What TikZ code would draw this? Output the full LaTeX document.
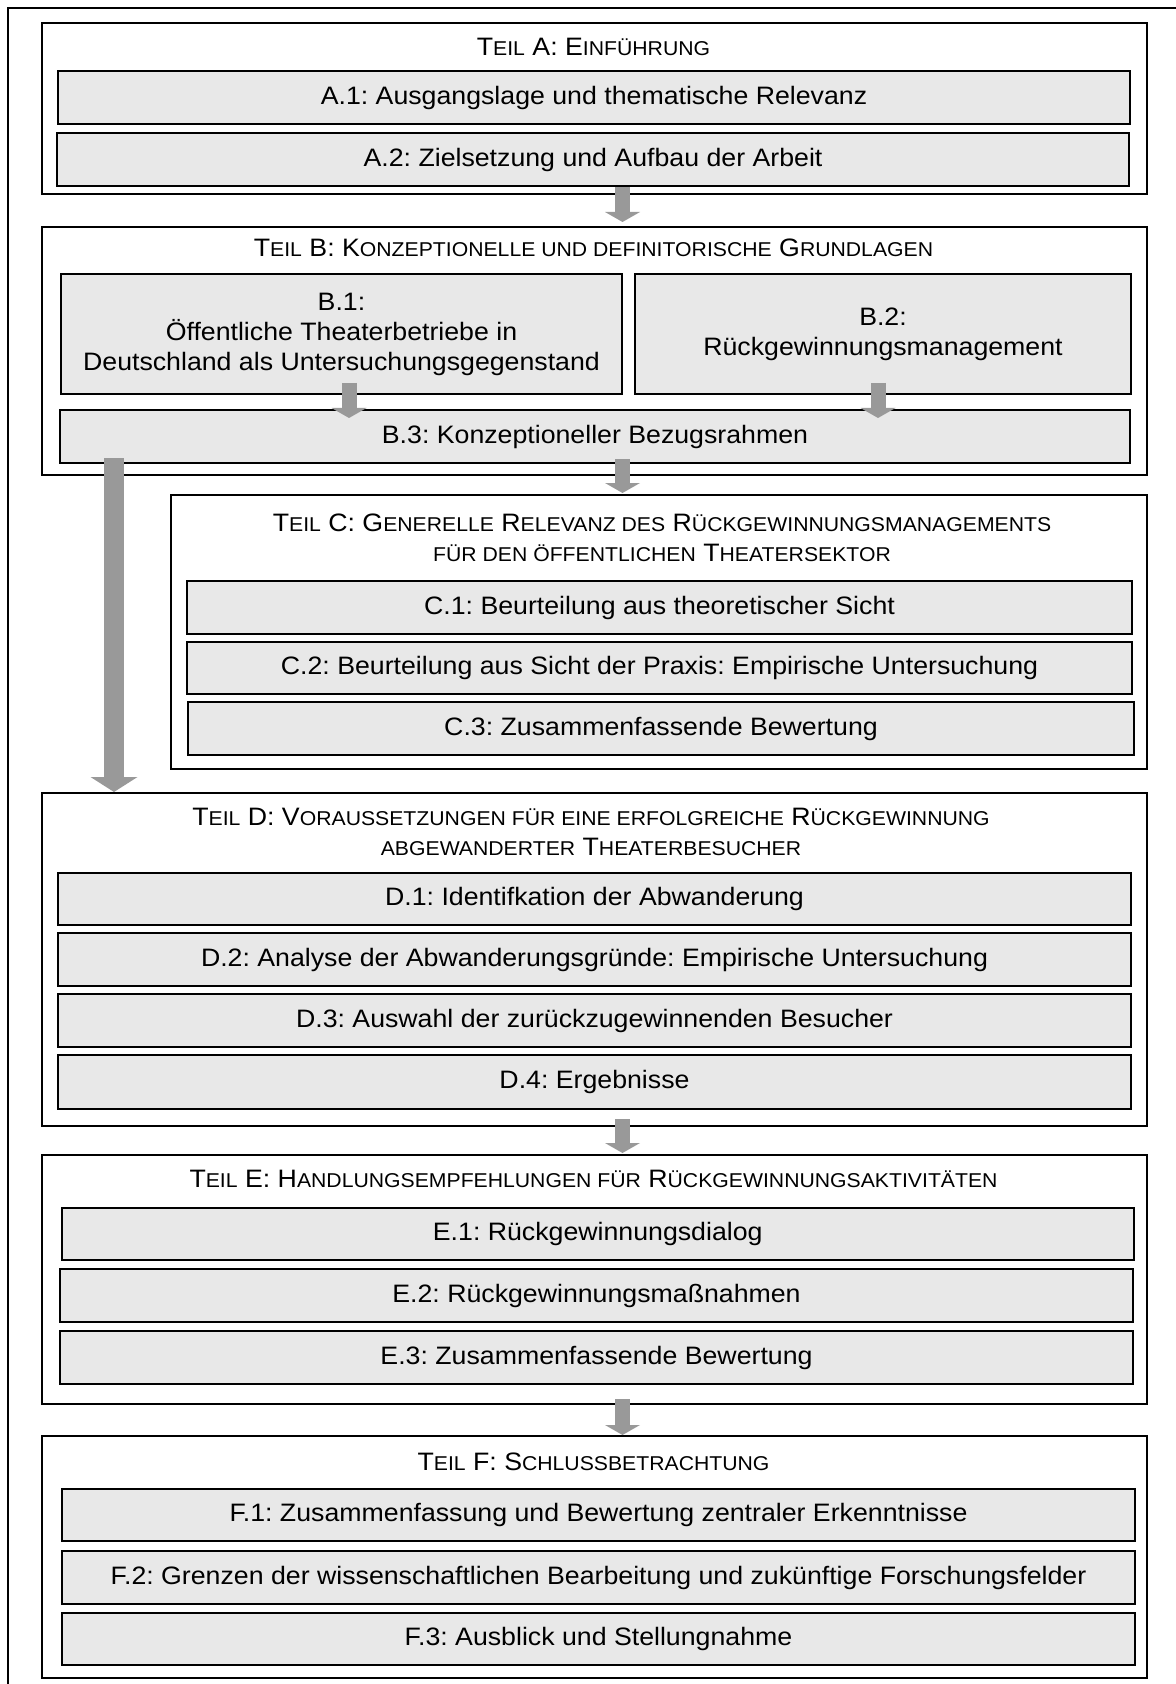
\documentclass[tikz,border=0pt]{standalone}
\usepackage{fontspec}
\setmainfont[FakeStretch=1.06]{Liberation Sans}
\usetikzlibrary{arrows.meta,calc}
\definecolor{boxgray}{HTML}{E8E8E8}
\definecolor{arrowgray}{HTML}{999999}
\newcommand{\kc}[1]{{\fontsize{10}{15}\selectfont #1}}
\tikzset{
 partbox/.style={draw=black, line width=1pt, fill=white, anchor=north west, inner sep=0pt},
 subbox/.style={draw=black, line width=1pt, fill=boxgray, anchor=north west, inner sep=0pt, align=center, font=\fontsize{12.6}{15}\selectfont\frenchspacing},
 ttl/.style={align=center, font=\fontsize{12.6}{15}\selectfont\frenchspacing, inner sep=0pt},
 blk/.style={draw=arrowgray, line width=7.5pt, -{Triangle[width=17.5pt,length=5pt,line width=0pt]}},
 bigblk/.style={draw=arrowgray, line width=10pt, -{Triangle[width=23.5pt,length=7.5pt,line width=0pt]}},
}
\newcommand{\mypart}[5]{\node[partbox, minimum width={(#4-#2)*0.5pt}, minimum height={(#5-#3)*0.5pt}] (#1) at (#2,#3) {};}
\newcommand{\mybox}[6]{\node[subbox, minimum width={(#4-#2)*0.5pt}, minimum height={(#5-#3)*0.5pt}] (#1) at (#2,#3) {#6};}
\begin{document}
\begin{tikzpicture}[x=0.5pt,y=-0.5pt]
\useasboundingbox (0,0) rectangle (1176,1684);
\draw[line width=1pt] (8,1690) -- (8,8) -- (1180,8);

% Part A
\mypart{PA}{41}{22}{1146}{193}
\node[ttl] (tA) at (593.5,47) {T\kc{EIL} A: E\kc{INFÜHRUNG}};
\mybox{A1}{57}{70}{1129}{123}{A.1: Ausgangslage und thematische Relevanz}
\mybox{A2}{56}{132}{1128}{185}{A.2: Zielsetzung und Aufbau der Arbeit}

% Part B
\mypart{PB}{41}{226}{1146}{474}
\node[ttl] (tB) at (593.5,248) {T\kc{EIL} B: K\kc{ONZEPTIONELLE UND DEFINITORISCHE} G\kc{RUNDLAGEN}};
\mybox{B1}{60}{273}{621}{393}{B.1:\\Öffentliche Theaterbetriebe in\\Deutschland als Untersuchungsgegenstand}
\mybox{B2}{634}{273}{1130}{393}{B.2:\\Rückgewinnungsmanagement}
\mybox{B3}{59}{409}{1129}{462}{B.3: Konzeptioneller Bezugsrahmen}

% Part C
\mypart{PC}{169.5}{494}{1146}{768}
\node[ttl] (tC) at (662,538) {T\kc{EIL} C: G\kc{ENERELLE} R\kc{ELEVANZ DES} R\kc{ÜCKGEWINNUNGSMANAGEMENTS}\\\kc{FÜR DEN ÖFFENTLICHEN} T\kc{HEATERSEKTOR}};
\mybox{C1}{186}{580}{1131}{633}{C.1: Beurteilung aus theoretischer Sicht}
\mybox{C2}{186}{641}{1131}{693}{C.2: Beurteilung aus Sicht der Praxis: Empirische Untersuchung}
\mybox{C3}{187}{701}{1133}{754}{C.3: Zusammenfassende Bewertung}

% Part D
\mypart{PD}{41}{792}{1146}{1125}
\node[ttl] (tD) at (591,832) {T\kc{EIL} D: V\kc{ORAUSSETZUNGEN FÜR EINE ERFOLGREICHE} R\kc{ÜCKGEWINNUNG}\\\kc{ABGEWANDERTER} T\kc{HEATERBESUCHER}};
\mybox{D1}{57}{872}{1130}{924}{D.1: Identifkation der Abwanderung}
\mybox{D2}{57}{932}{1130}{985}{D.2: Analyse der Abwanderungsgründe: Empirische Untersuchung}
\mybox{D3}{57}{993}{1130}{1046}{D.3: Auswahl der zurückzugewinnenden Besucher}
\mybox{D4}{57}{1054}{1130}{1108}{D.4: Ergebnisse}

% Part E
\mypart{PE}{41}{1154}{1146}{1403}
\node[ttl] (tE) at (593.5,1179) {T\kc{EIL} E: H\kc{ANDLUNGSEMPFEHLUNGEN FÜR} R\kc{ÜCKGEWINNUNGSAKTIVITÄTEN}};
\mybox{E1}{60.5}{1207}{1133}{1259}{E.1: Rückgewinnungsdialog}
\mybox{E2}{59}{1268}{1132}{1321}{E.2: Rückgewinnungsmaßnahmen}
\mybox{E3}{59}{1330}{1132}{1383}{E.3: Zusammenfassende Bewertung}

% Part F
\mypart{PF}{41}{1435}{1146}{1677}
\node[ttl] (tF) at (593.5,1462) {T\kc{EIL} F: S\kc{CHLUSSBETRACHTUNG}};
\mybox{F1}{61}{1488}{1134}{1540}{F.1: Zusammenfassung und Bewertung zentraler Erkenntnisse}
\mybox{F2}{61}{1550}{1134}{1603}{F.2: Grenzen der wissenschaftlichen Bearbeitung und zukünftige Forschungsfelder}
\mybox{F3}{61}{1612}{1134}{1664}{F.3: Ausblick und Stellungnahme}

% arrows
\coordinate (xm) at (622.5,0);
\coordinate (xb1) at (349,0);
\coordinate (xb2) at (878,0);
\coordinate (xbig) at (114,0);
\draw[blk] (A2.south -| xm) -- ($(PB.north -| xm)+(0,-4)$);
\draw[blk] ($(B1.south -| xb1)+(0,-12)$) -- ($(B3.north -| xb1)+(0,9)$);
\draw[blk] ($(B2.south -| xb2)+(0,-12)$) -- ($(B3.north -| xb2)+(0,9)$);
\draw[blk] ($(B3.south -| xm)+(0,-5)$) -- ($(PC.north -| xm)+(0,-1)$);
\draw[bigblk] ($(B3.south -| xbig)+(0,-6)$) -- (PD.north -| xbig);
\draw[blk] ($(D4.south -| xm)+(0,9)$) -- ($(PE.north -| xm)+(0,-1)$);
\draw[blk] ($(E3.south -| xm)+(0,14)$) -- (PF.north -| xm);
\end{tikzpicture}
\end{document}
